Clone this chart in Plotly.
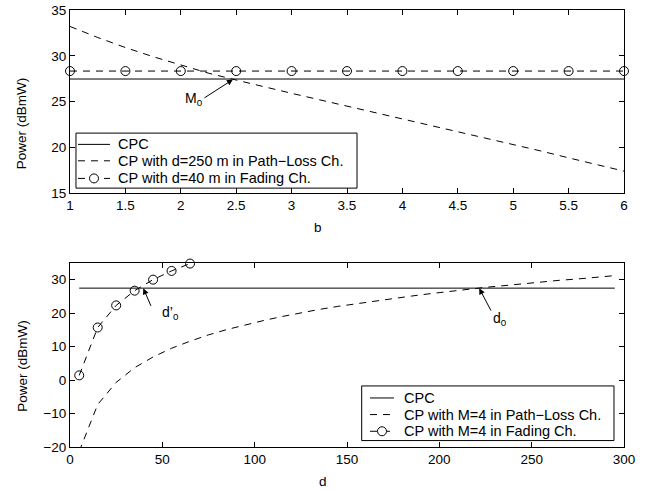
import plotly.graph_objects as go

# ---------------- data ----------------
# top panel: power vs path-loss exponent b
b_line = [1, 6]
cpc_top = [27.46, 27.46]

b_pl = [1, 1.25, 1.5, 1.75, 2.0, 2.25, 2.5, 2.75, 3.0, 3.25, 3.5, 3.75,
        4.0, 4.25, 4.5, 4.75, 5.0, 5.25, 5.5, 5.75, 6.0]
pl_top = [33.2, 32.0, 30.9, 29.9, 29.0, 28.1, 27.35, 26.6, 25.9, 25.2, 24.5,
          23.8, 23.15, 22.45, 21.75, 21.05, 20.3, 19.6, 18.85, 18.1, 17.4]

b_fad = [1, 1.5, 2, 2.5, 3, 3.5, 4, 4.5, 5, 5.5, 6]
fad_top = [28.33] * 11

# bottom panel: power vs distance d
d_line = [5, 295]
cpc_bot = [27.46, 27.46]

d_pl = [5, 15, 25, 35, 45, 55, 65, 75, 85, 95, 105, 115, 125, 135, 145, 155,
        165, 175, 185, 195, 205, 215, 225, 235, 245, 255, 265, 275, 285, 295]
pl_bot = [-21.3, -7.3, -0.7, 3.7, 6.9, 9.5, 11.6, 13.5, 15.1, 16.5, 17.8, 19.0,
          20.1, 21.1, 22.0, 22.8, 23.7, 24.4, 25.1, 25.8, 26.5, 27.1, 27.7,
          28.2, 28.8, 29.3, 29.8, 30.2, 30.7, 31.2]

d_fad = [5, 15, 25, 35, 45, 55, 65]
fad_bot = [1.4, 15.7, 22.3, 26.7, 30.0, 32.6, 34.8]

top_names = ["CPC", "CP with d=250 m in Path\u2212Loss Ch.", "CP with d=40 m in Fading Ch."]
bot_names = ["CPC", "CP with M=4 in Path\u2212Loss Ch.", "CP with M=4 in Fading Ch."]

top_xticks = [1, 1.5, 2, 2.5, 3, 3.5, 4, 4.5, 5, 5.5, 6]
top_yticks = [15, 20, 25, 30, 35]
bot_xticks = [0, 50, 100, 150, 200, 250, 300]
bot_yticks = [-20, -10, 0, 10, 20, 30]

x_title_top = "b"
x_title_bot = "d"
y_title = "Power (dBmW)"

# ---------------- figure ----------------
FONT = "Liberation Sans, Arial, Helvetica, sans-serif"
BLK = "black"
DASH = "7px,6px"
TICK_FS = 13.5
LEG_FS = 14.5
TITLE_FS = 13.5

fig = go.Figure()

marker_style = dict(symbol="circle-open", size=9, color=BLK, line=dict(width=1))

# top panel
fig.add_trace(go.Scatter(x=b_line, y=cpc_top, mode="lines", name=top_names[0],
                         line=dict(color=BLK, width=1), xaxis="x", yaxis="y"))
fig.add_trace(go.Scatter(x=b_pl, y=pl_top, mode="lines", name=top_names[1],
                         line=dict(color=BLK, width=1, dash=DASH), xaxis="x", yaxis="y"))
fig.add_trace(go.Scatter(x=b_fad, y=fad_top, mode="lines+markers", name=top_names[2],
                         line=dict(color=BLK, width=1, dash=DASH), marker=marker_style,
                         cliponaxis=False, xaxis="x", yaxis="y"))

# bottom panel
fig.add_trace(go.Scatter(x=d_line, y=cpc_bot, mode="lines", name=bot_names[0],
                         line=dict(color=BLK, width=1), xaxis="x2", yaxis="y2"))
fig.add_trace(go.Scatter(x=d_pl, y=pl_bot, mode="lines", name=bot_names[1],
                         line=dict(color=BLK, width=1, dash=DASH), xaxis="x2", yaxis="y2"))
fig.add_trace(go.Scatter(x=d_fad, y=fad_bot, mode="lines+markers", name=bot_names[2],
                         line=dict(color=BLK, width=1, dash=DASH), marker=marker_style,
                         cliponaxis=False, xaxis="x2", yaxis="y2"))

axis_common = dict(showline=True, linecolor=BLK, linewidth=1, mirror="ticks",
                   ticks="inside", ticklen=5, tickcolor=BLK, tickwidth=1,
                   showgrid=False, zeroline=False, ticklabeloverflow="allow",
                   automargin=False,
                   tickfont=dict(family=FONT, size=TICK_FS, color=BLK))

fig.update_layout(
    width=658, height=491,
    margin=dict(l=70, r=34, t=10, b=44.3, autoexpand=False),
    paper_bgcolor="white", plot_bgcolor="white",
    font=dict(family=FONT, size=13, color=BLK),
    showlegend=False,
    xaxis=dict(domain=[0, 1], anchor="y", range=[1, 6], tickvals=top_xticks,
               ticktext=[f"{v:g}" for v in top_xticks], **axis_common),
    yaxis=dict(domain=[0.581, 1], anchor="x", range=[15, 35], tickvals=top_yticks, **axis_common),
    xaxis2=dict(domain=[0, 1], anchor="y2", range=[0, 300], tickvals=bot_xticks, **axis_common),
    yaxis2=dict(domain=[0, 0.4213], anchor="x2", range=[-20, 35], tickvals=bot_yticks,
                ticktext=[("\u2212" + str(-v)) if v < 0 else str(v) for v in bot_yticks],
                **axis_common),
)

# ---- legends (boxed, MATLAB style) ----
def draw_legend(names, box, rows, sample, circ_x, text_x):
    x0, x1, y0, y1 = box
    fig.add_shape(type="rect", xref="paper", yref="paper", x0=x0, x1=x1, y0=y0, y1=y1,
                  line=dict(color=BLK, width=1), fillcolor="white", layer="above")
    styles = ["solid", DASH, DASH]
    for i, (name, ry) in enumerate(zip(names, rows)):
        fig.add_shape(type="line", xref="paper", yref="paper", x0=sample[0], x1=sample[1],
                      y0=ry, y1=ry, line=dict(color=BLK, width=1, dash=styles[i]), layer="above")
        if i == 2:
            fig.add_shape(type="circle", xref="paper", yref="paper",
                          xsizemode="pixel", ysizemode="pixel", xanchor=circ_x, yanchor=ry,
                          x0=-4.5, x1=4.5, y0=-4.5, y1=4.5, fillcolor="white",
                          line=dict(color=BLK, width=1), layer="above")
        fig.add_annotation(x=text_x, y=ry, xref="paper", yref="paper", text=name,
                           showarrow=False, xanchor="left", yanchor="middle",
                           font=dict(family=FONT, size=LEG_FS, color=BLK))

draw_legend(top_names, (0.0108, 0.5181, 0.5924, 0.7183), (0.6925, 0.6549, 0.6146),
            (0.0144, 0.0722), 0.0433, 0.0835)
draw_legend(bot_names, (0.5265, 0.9819, 0.0147, 0.1397), (0.1122, 0.0742, 0.0360),
            (0.5415, 0.5848), 0.5632, 0.5985)

# axis titles placed as in the reference
tfont = dict(family=FONT, size=TITLE_FS, color=BLK)
fig.add_annotation(x=0.4477, y=0.503, xref="paper", yref="paper", text=x_title_top,
                   showarrow=False, font=tfont, xanchor="center", yanchor="middle")
fig.add_annotation(x=0.4567, y=-0.0785, xref="paper", yref="paper", text=x_title_bot,
                   showarrow=False, font=tfont, xanchor="center", yanchor="middle")
fig.add_annotation(x=-0.0872, y=0.740, xref="paper", yref="paper", text=y_title, textangle=-90,
                   showarrow=False, font=tfont, xanchor="center", yanchor="middle")
fig.add_annotation(x=-0.0872, y=0.1852, xref="paper", yref="paper", text=y_title, textangle=-90,
                   showarrow=False, font=tfont, xanchor="center", yanchor="middle")

# annotations: arrows and labels
arrow = dict(showarrow=True, arrowhead=2, arrowsize=1.2, arrowwidth=1, arrowcolor=BLK, text="")
afont = dict(family=FONT, size=14, color=BLK)
fig.add_annotation(x=2.47, y=27.4, ax=2.2, ay=25.3, xref="x", yref="y", axref="x", ayref="y", **arrow)
fig.add_annotation(x=2.12, y=25.3, xref="x", yref="y", text="M<sub>0</sub>", showarrow=False, font=afont)
fig.add_annotation(x=39.7, y=27.4, ax=44.2, ay=21.7, xref="x2", yref="y2", axref="x2", ayref="y2", **arrow)
fig.add_annotation(x=54.5, y=20.0, xref="x2", yref="y2", text="d\u2019<sub>0</sub>", showarrow=False, font=afont)
fig.add_annotation(x=221.6, y=27.4, ax=228.4, ay=20.3, xref="x2", yref="y2", axref="x2", ayref="y2", **arrow)
fig.add_annotation(x=233.0, y=18.2, xref="x2", yref="y2", text="d<sub>0</sub>", showarrow=False, font=afont)

# remove the browser's default 8px page margin so the figure fills the window
fig.write_html("out.html", config={"displayModeBar": False},
               post_script="document.body.style.margin='0';")
